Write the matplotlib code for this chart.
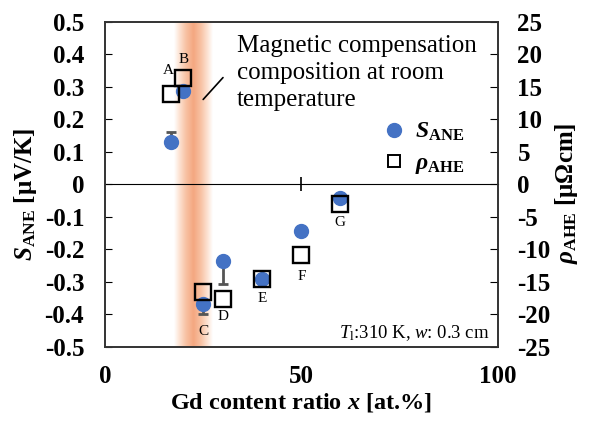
import matplotlib
matplotlib.use('Agg')
import matplotlib.pyplot as plt
import numpy as np
from matplotlib.colors import LinearSegmentedColormap
from matplotlib.lines import Line2D

plt.rcParams['font.family'] = 'Liberation Serif'
plt.rcParams['mathtext.fontset'] = 'custom'
plt.rcParams['mathtext.rm'] = 'Liberation Serif'
plt.rcParams['mathtext.it'] = 'Liberation Serif:italic'
plt.rcParams['mathtext.bf'] = 'Liberation Serif:bold'
plt.rcParams['mathtext.bfit'] = 'Liberation Serif:bold:italic'
plt.rcParams['axes.unicode_minus'] = False

# sample data (A..G)
labels = ['A', 'B', 'C', 'D', 'E', 'F', 'G']
gd_x = [16.7, 19.9, 25.0, 30.1, 39.9, 50.0, 59.8]
s_ane = [0.129, 0.286, -0.368, -0.235, -0.290, -0.143, -0.043]
s_err_up = [0.033, 0.0, 0.0, 0.0, 0.0, 0.0, 0.0]
s_err_dn = [0.0, 0.0, 0.032, 0.071, 0.0, 0.0, 0.0]
rho_ahe = [13.9, 16.4, -16.6, -17.6, -14.5, -10.8, -3.0]

# label offsets in points (dx, dy) relative to the rho point
label_off = [(-2, 17), (0, 13.5), (0, -28), (0, -12.7), (0, -14.4), (0, -15.6), (0, -13.7)]

band_x = [17.6, 27.4]

fig, ax = plt.subplots(figsize=(5.9, 4.21), dpi=100)
fig.subplots_adjust(left=0.178, right=0.844, top=0.948, bottom=0.176)

# compensation band, orange gradient
cmap = LinearSegmentedColormap.from_list(
    'band', [(0, '#ffffff'), (0.12, '#fde6d8'), (0.3, '#f8c3a5'), (0.5, '#f4a780'),
             (0.7, '#f8c3a5'), (0.88, '#fde6d8'), (1, '#ffffff')])
grad = np.linspace(0, 1, 200).reshape(1, -1)
ax.imshow(grad, extent=[band_x[0], band_x[1], -0.5, 0.5], aspect='auto',
          cmap=cmap, zorder=0, interpolation='bicubic')

ax.set_xlim(0, 100)
ax.set_ylim(-0.5, 0.5)

ax.errorbar(gd_x, s_ane, yerr=[s_err_dn, s_err_up], fmt='none', ecolor='#555555',
            elinewidth=2, capsize=3.5, capthick=2, zorder=2)
ax.plot(gd_x, s_ane, 'o', color='#4472c4', markersize=10, zorder=3)

ax2 = ax.twinx()
ax2.set_ylim(-25, 25)
ax2.plot(gd_x, rho_ahe, 's', markerfacecolor='none', markeredgecolor='black',
         markeredgewidth=1.7, markersize=11, zorder=4)

for lab, x, r, off in zip(labels, gd_x, rho_ahe, label_off):
    ax2.annotate(lab, (x, r), xytext=off, textcoords='offset points',
                 ha='center', va='center', fontsize=11)

# zero line with tick at 50
sec = ax.secondary_xaxis(0.5)
sec.set_xticks([50])
sec.tick_params(direction='inout', length=10, width=1.2, labelbottom=False, labeltop=False)
sec.spines['bottom'].set_linewidth(1.4)
sec.spines['bottom'].set_color('#222222')

ax.set_xticks([0, 50, 100])
ax.tick_params(axis='x', length=0, labelsize=18, pad=13)
for t in ax.get_xticklabels():
    t.set_fontweight('bold')

yt = np.round(np.arange(-0.5, 0.51, 0.1), 1)
ax.set_yticks(yt)
ax.set_yticklabels(['0' if v == 0 else f'{v:.1f}' for v in yt], fontweight='bold')
ax.tick_params(axis='y', direction='in', length=5, labelsize=18, pad=15)

rt = np.arange(-25, 26, 5)
ax2.set_yticks(rt)
ax2.set_yticklabels([str(v) for v in rt], fontweight='bold')
ax2.tick_params(axis='y', direction='in', length=6, labelsize=18, pad=14)

for sp in list(ax.spines.values()) + list(ax2.spines.values()):
    sp.set_color('#333333')
    sp.set_linewidth(1.2)

ax.set_xlabel(r'Gd content ratio $\mathbfit{x}$ [at.%]', fontsize=17.5, fontweight='bold')
ax.xaxis.set_label_coords(0.5, -0.135)
ax.set_ylabel(r'$\mathbfit{S}_{\mathbf{ANE}}$ [μV/K]', fontsize=18, fontweight='bold')
ax.yaxis.set_label_coords(-0.168, 0.47)
ax2.set_ylabel(r'$\mathbfit{\rho}_{\mathbf{AHE}}$ [μΩcm]', fontsize=18, fontweight='bold')
ax2.yaxis.set_label_coords(1.14, 0.474)

ax.text(0.335, 0.96, 'Magnetic compensation\ncomposition at room\ntemperature',
        transform=ax.transAxes, fontsize=18, va='top', ha='left', linespacing=1.3)
ax.annotate('', xy=(0.245, 0.755), xytext=(0.305, 0.835), xycoords='axes fraction',
            arrowprops=dict(arrowstyle='-', color='black', lw=1.2))

ax.text(0.98, 0.012, r'$T_{\mathrm{l}}$:310 K, $w$: 0.3 cm', transform=ax.transAxes,
        fontsize=13.5, ha='right', va='bottom')

handles = [Line2D([], [], marker='o', ls='none', color='#4472c4', markersize=10),
           Line2D([], [], marker='s', ls='none', markerfacecolor='none',
                  markeredgecolor='black', markeredgewidth=1.4, markersize=9)]
leg = ax2.legend(handles, [r'$\mathbfit{S}_{\mathbf{ANE}}$', r'$\mathbfit{\rho}_{\mathbf{AHE}}$'],
                 loc='center left', bbox_to_anchor=(0.705, 0.61), frameon=False,
                 fontsize=17, handlelength=1.0, handletextpad=0.4, labelspacing=0.4,
                 borderpad=0, borderaxespad=0)

fig.savefig('out.png', dpi=100)
